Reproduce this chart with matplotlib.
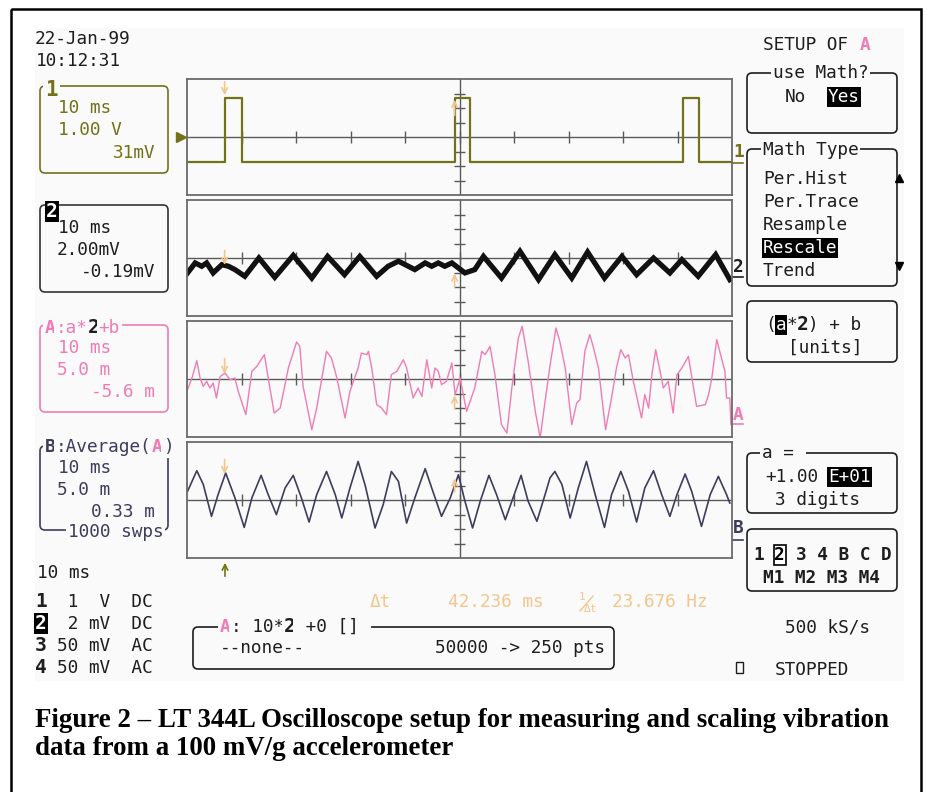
import matplotlib
matplotlib.use("Agg")
import matplotlib.pyplot as plt
from matplotlib.patches import FancyBboxPatch, Rectangle

# ---- trace data (time in ms, amplitude in divisions) ----
ch1_rise_ms = [-43.1, -0.9, 41.1]
ch1_fall_ms = [-40.0, 1.9, 44.0]
ch1_low_div = -1.75
ch1_high_div = 2.7

ch2_t = [-49.9, -48.5, -47.3, -46.4, -45.2, -43.6, -42.4, -41.2, -39.4, -36.8,
         -33.9, -30.5, -27.1, -24.2, -21.1, -18.3, -15.2, -13.1, -11.2, -8.2,
         -6.3, -5.1, -3.9, -2.7, -1.4, 1.0, 2.8, 4.4, 7.7, 11.1,
         14.5, 17.5, 20.6, 23.5, 26.6, 29.8, 32.5, 35.6, 38.6, 40.8,
         43.8, 47.0, 49.6]
ch2_v = [-1.03, -0.34, -0.57, -0.34, -1.03, -0.46, -0.57, -0.80, -1.26, 0.00,
         -1.33, 0.18, -1.38, 0.11, -1.15, 0.11, -1.26, -0.57, -0.22, -0.80,
         -0.34, -0.57, -0.34, -0.57, -0.34, -1.03, -0.80, 0.11, -1.38, 0.46,
         -1.49, 0.23, -1.38, 0.41, -1.38, 0.11, -1.15, 0.00, -1.03, -0.11,
         -1.26, 0.23, -1.49]

mathA_t = [-49.9, -49.0, -48.2, -47.6, -47.0, -46.4, -45.8, -45.2, -44.6, -43.9,
           -43.0, -42.1, -41.2, -40.6, -39.2, -38.1, -37.2, -35.8, -35.1, -34.0,
           -32.9, -31.4, -29.9, -29.3, -28.7, -27.1, -26.2, -24.4, -23.5, -22.5,
           -21.0, -20.1, -18.6, -18.0, -17.0,
           -16.7, -16.1, -15.2, -14.3, -13.4, -12.5, -11.5, -10.3, -9.7, -8.5,
           -7.6, -6.9, -6.0, -5.1, -4.5, -3.9, -3.3, -2.4, -1.4, -0.8,
           0.1, 1.3, 2.8, 4.1, 4.7, 5.6, 6.5, 7.7, 8.7, 9.6,
           10.8, 11.5, 12.6, 13.9, 14.8, 15.7, 16.6,
           17.7, 18.4, 19.4, 20.6, 21.5, 22.1, 23.0, 23.9, 24.6, 25.5,
           26.8, 27.9, 28.8, 29.6, 30.4, 31.0, 31.9, 33.4, 34.0, 34.7,
           35.3, 36.0, 36.8, 37.4, 38.3, 39.2, 39.9, 40.8, 42.0, 43.5,
           45.1, 45.7, 46.3, 47.2, 48.7, 49.0, 49.6, 49.8]
mathA_v = [-0.74, 0.18, 1.26, 0.07, -0.51, -0.16, -0.62, -0.28, -1.31, 0.18,
           0.41, -0.05, 0.07, -0.85, -2.46, 0.53, 0.87, 1.68, 0.07, -2.35,
           -2.00, 0.76, 2.55, 2.25, -0.51, -3.50, -2.00, 1.91, 1.45, 0.07,
           -2.69, -0.85, 0.76, 1.79, 1.68,
           1.91, 0.76, -1.77, -2.00, -2.46, 0.30, 0.53, 1.33, 0.76, -1.31,
           -0.62, -1.20, 1.33, -0.62, 0.76, 0.53, -0.39, -0.16, 1.10, -1.08,
           0.07, -2.23, -0.62, 1.91, 1.68, 2.25, 0.30, -3.15, -3.73, -0.62,
           2.83, 3.63, 1.22, -2.23, -4.07, -1.54, 0.90,
           3.52, 2.60, 0.76, -3.15, -1.66, -1.43, 1.91, 3.06, 2.14, 0.76,
           -3.50, -1.31, 0.76, 2.02, 1.45, 1.68, -0.16, -2.69, -1.08, -2.00,
           0.30, 2.02, 0.53, -0.62, -0.16, -2.35, 0.30, 0.76, 1.56, -1.89,
           -1.77, -1.08, 0.07, 2.71, 0.53, -1.31, -1.31, -3.15]

avgB_t = [-49.9, -48.2, -47.0, -45.5, -44.3, -42.9, -41.2, -39.5, -38.1, -36.4,
          -35.1, -33.6, -32.0, -30.5, -29.0, -27.6, -26.2, -24.4, -22.8, -21.6,
          -20.1, -18.6, -17.3,
          -15.5, -14.0, -12.5, -11.2, -9.7, -8.2, -6.3, -5.1, -3.3, -1.7,
          -0.2, 1.0, 2.4, 3.8, 5.4, 6.8, 8.4, 9.6, 11.3, 12.6,
          14.2, 15.7, 16.6,
          17.5, 18.8, 20.3, 21.8, 23.3, 24.9, 26.6, 27.9, 29.6, 31.0,
          32.5, 34.0, 35.6, 37.1, 38.6, 39.9, 41.4, 42.6, 44.4, 46.0,
          47.5, 49.0, 49.6]
avgB_v = [0.60, 2.02, 1.06, -1.13, 0.37, 1.86, 0.14, -1.89, 0.14, 1.70,
          0.37, -1.01, 0.83, 1.70, 0.14, -1.52, 0.37, 1.97, 0.37, -1.24,
          0.83, 2.66, 1.00,
          -1.93, -0.32, 1.97, 1.28, -1.59, 0.14, 2.16, 0.83, -1.13, 0.14,
          1.74, -0.09, -1.93, -0.09, 1.70, 0.37, -1.36, -0.09, 1.70, -0.09,
          -1.47, 0.37, 1.52,
          1.97, 1.06, -1.24, 0.83, 2.66, 0.37, -1.89, 0.37, 1.97, 0.60,
          -1.52, 0.83, 2.02, 0.37, -1.13, 0.37, 1.79, 0.60, -1.82, 0.37,
          1.63, 0.37, -0.21]

cursor_ms = [-43.1, -0.9]
channel_rows = [" 1  V  DC", " 2 mV  DC", "50 mV  AC", "50 mV  AC"]
math_types = ["Per.Hist", "Per.Trace", "Resample", "Rescale", "Trend"]

# ---- look ----
W, H = 927, 792
MONO = "DejaVu Sans Mono"
FS = 12.8
CW = 10.7  # advance of one mono char in px
SCREEN = "#fafafa"
INK = "#1e1e1e"
OLIVE = "#72721a"
PINK = "#f07cb6"
NAVY = "#3d3d5e"
CURSOR = "#f2c68c"
GRID = "#5a5a5a"

fig = plt.figure(figsize=(W / 100, H / 100), dpi=100)
bg = fig.add_axes([0, 0, 1, 1])
bg.set_xlim(0, W)
bg.set_ylim(H, 0)
bg.axis("off")

bg.add_patch(Rectangle((35, 28), 869, 653, fc=SCREEN, ec="none"))
bg.add_patch(Rectangle((11, 9), 910, 800, fill=False, ec="black", lw=1.8))


def txt(x, y, s, color=INK, bold=False, ha="left", size=FS, inv=False, cover=False):
    kw = {}
    if inv:
        kw["bbox"] = dict(boxstyle="square,pad=0.06", fc="black", ec="none")
        color = "white"
    elif cover:
        kw["bbox"] = dict(boxstyle="square,pad=0.1", fc=SCREEN, ec="none")
    bg.text(x, y, s, ha=ha, va="baseline", color=color, fontsize=size,
            fontweight="bold" if bold else "normal", family=MONO, **kw)


def rbox(x0, y0, x1, y1, color=INK, r=5):
    bg.add_patch(FancyBboxPatch((x0, y0), x1 - x0, y1 - y0,
                                boxstyle=f"round,pad=0,rounding_size={r}",
                                fc="none", ec=color, lw=1.2))


# ---- header ----
txt(35, 44, "22-Jan-99")
txt(36, 66, "10:12:31")
txt(763, 50, "SETUP OF ")
txt(763 + 9 * CW, 50, "A", PINK, bold=True)

# ---- left channel boxes ----
rbox(40, 86, 168, 173, OLIVE)
txt(45, 96, "1", OLIVE, bold=True, size=15, cover=True)
txt(58, 113, "10 ms", OLIVE)
txt(58, 135, "1.00 V", OLIVE)
txt(155, 158, "31mV", OLIVE, ha="right")

rbox(40, 205, 168, 292, "#333333")
txt(46, 217, "2", bold=True, size=14, inv=True)
txt(58, 233, "10 ms")
txt(57, 255, "2.00mV")
txt(155, 277, "-0.19mV", ha="right")

rbox(40, 325, 168, 412, PINK)
txt(45, 333, "A", PINK, bold=True, cover=True)
txt(45 + CW, 333, ":a*", PINK, cover=True)
txt(45 + 4 * CW, 333, "2", INK, bold=True, size=14, cover=True)
txt(45 + 5 * CW, 333, "+b", PINK, cover=True)
txt(58, 353, "10 ms", PINK)
txt(57, 375, "5.0 m", PINK)
txt(155, 397, "-5.6 m", PINK, ha="right")

rbox(40, 446, 168, 530, NAVY)
txt(45, 452, "B", NAVY, bold=True, cover=True)
txt(45 + CW, 452, ":Average(", NAVY, cover=True)
txt(45 + 10 * CW, 452, "A", PINK, bold=True, cover=True)
txt(45 + 11 * CW, 452, ")", NAVY, cover=True)
txt(58, 473, "10 ms", NAVY)
txt(57, 495, "5.0 m", NAVY)
txt(155, 517, "0.33 m", NAVY, ha="right")
txt(68, 537, "1000 swps", NAVY, cover=True)

txt(37, 578, "10 ms")
for i, row in enumerate(channel_rows):
    y = 607 + 22 * i
    txt(35, y, str(i + 1), bold=True, size=14, inv=(i == 1))
    txt(57, y, row)

# ---- cursor readout ----
txt(370, 607, "Δt", CURSOR)
txt(448, 607, "42.236 ms", CURSOR)
bg.text(579, 600, "1", color=CURSOR, fontsize=8, family=MONO)
bg.plot([580, 593], [611, 596], color=CURSOR, lw=1.0)
bg.text(584, 612, "Δt", color=CURSOR, fontsize=8, family=MONO)
txt(612, 607, "23.676 Hz", CURSOR)

# ---- math readout box ----
rbox(193, 627, 614, 669)
txt(220, 632, "A", PINK, bold=True, cover=True)
txt(220 + CW, 632, ": 10*", cover=True)
txt(220 + 6 * CW, 632, "2", bold=True, size=14, cover=True)
txt(220 + 7 * CW, 632, " +0 [] ", cover=True)
txt(220, 653, "--none--")
txt(605, 653, "50000 -> 250 pts", ha="right")

# ---- right menu ----
rbox(747, 73, 897, 133)
txt(773, 78, "use Math?", cover=True)
txt(785, 102, "No")
txt(828, 102, "Yes", inv=True)

rbox(747, 149, 897, 286)
txt(763, 155, "Math Type", cover=True)
for i, name in enumerate(math_types):
    txt(763, 184 + 23 * i, name, inv=(name == "Rescale"))
bg.plot([899], [178], marker="^", ms=6, color="black")
bg.plot([899], [266], marker="v", ms=6, color="black")

rbox(747, 301, 897, 362)
txt(765, 330, "(")
txt(765 + CW, 330, "a", inv=True)
txt(765 + 2 * CW, 330, "*")
txt(765 + 3 * CW, 330, "2", bold=True, size=14)
txt(765 + 4 * CW, 330, ") + b")
txt(788, 353, "[units]")

rbox(747, 453, 897, 513)
txt(762, 458, "a = ", cover=True)
txt(765, 482, "+1.00")
txt(828, 482, "E+01", inv=True)
txt(775, 505, "3 digits")

rbox(747, 529, 897, 591)
txt(753, 560, "1", bold=True)
bg.text(753 + 2 * CW, 560, "2", ha="left", va="baseline", color="black",
        fontsize=FS, fontweight="bold", family=MONO,
        bbox=dict(boxstyle="square,pad=0.05", fc="white", ec="black", lw=1.2))
txt(753 + 4 * CW, 560, "3 4 B C D", bold=True)
txt(763, 583, "M1 M2 M3 M4", bold=True)

txt(785, 632, "500 kS/s")
bg.add_patch(Rectangle((736, 662), 7, 11, fill=False, ec=INK, lw=1.0))
txt(775, 675, "STOPPED")

# ---- trace-side markers ----
bg.plot([181], [137], marker=">", ms=7, color=OLIVE)
txt(733, 157, "1", OLIVE, bold=True)
bg.plot([732, 743], [163, 163], color=OLIVE, lw=1.2)
txt(733, 272, "2", bold=True)
bg.plot([732, 743], [277, 277], color=INK, lw=1.2)
txt(733, 420, "A", PINK, bold=True)
bg.plot([732, 743], [424, 424], color=PINK, lw=1.2)
txt(733, 533, "B", NAVY, bold=True)
bg.plot([732, 743], [540, 540], color=NAVY, lw=1.2)
bg.annotate("", xy=(225, 560), xytext=(225, 579),
            arrowprops=dict(arrowstyle="->", color=OLIVE, lw=1.2))

# ---- caption ----
cap = dict(family="Liberation Serif", fontweight="bold", fontsize=19.4,
           color="black", va="baseline", ha="left")
bg.text(35, 727, "Figure 2 \u2013 LT 344L Oscilloscope setup for measuring and scaling vibration", **cap)
bg.text(35, 755, "data from a 100 mV/g accelerometer", **cap)

# ---- the four graticules ----
panel_tops = [79, 200, 321, 442]
PX0, PX1, PH = 187, 732, 116
panels = []
for top in panel_tops:
    a = fig.add_axes([PX0 / W, 1 - (top + PH) / H, (PX1 - PX0) / W, PH / H])
    a.set_xlim(-50, 50)
    a.set_ylim(-4, 4)
    a.set_facecolor(SCREEN)
    a.set_xticks([])
    a.set_yticks([])
    for s in a.spines.values():
        s.set_color("#6a6a6a")
        s.set_linewidth(1.3)
    a.axhline(0, color=GRID, lw=1.0)
    a.axvline(0, color=GRID, lw=1.0)
    a.vlines(range(-40, 50, 10), -0.4, 0.4, color=GRID, lw=1.0)
    a.hlines([-3, -2, -1, 1, 2, 3], -1.1, 1.1, color=GRID, lw=1.0)
    panels.append(a)

# channel 1 pulse train
edges = sorted(ch1_rise_ms + ch1_fall_ms)
t1 = [-50] + edges + [50]
v1 = [ch1_low_div] + [ch1_high_div if e in ch1_rise_ms else ch1_low_div for e in edges] + [ch1_low_div]
panels[0].step(t1, v1, where="post", color=OLIVE, lw=1.6)

panels[1].plot(ch2_t, ch2_v, color="#111111", lw=3.8, solid_joinstyle="miter")
panels[2].plot(mathA_t, mathA_v, color=PINK, lw=1.0)
panels[3].plot(avgB_t, avgB_v, color=NAVY, lw=1.2)

# cursor arrows: (tail, tip) in divisions for each panel
down_arrows = [(4.0, 2.7), (0.71, -0.67), (1.6, 0.16), (3.0, 1.6)]
up_arrows = [(1.3, 2.75), (-2.2, -0.88), (-2.25, -0.94), (0.37, 1.68)]
for a, d, u in zip(panels, down_arrows, up_arrows):
    a.annotate("", xy=(cursor_ms[0], d[1]), xytext=(cursor_ms[0], d[0]),
               arrowprops=dict(arrowstyle="->", color=CURSOR, lw=1.2))
    a.annotate("", xy=(cursor_ms[1], u[1]), xytext=(cursor_ms[1], u[0]),
               arrowprops=dict(arrowstyle="->", color=CURSOR, lw=1.2))

fig.savefig("out.png", dpi=100, facecolor="white")
